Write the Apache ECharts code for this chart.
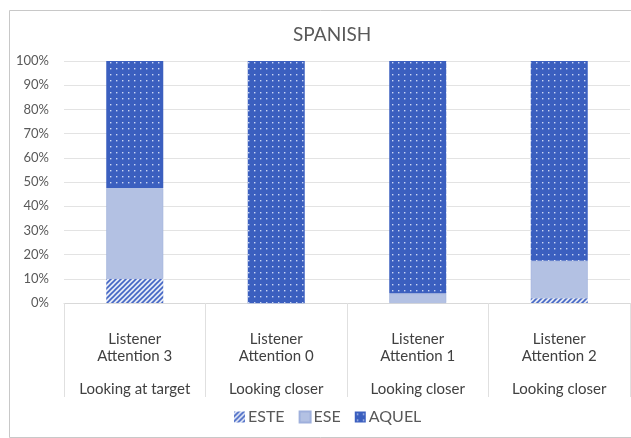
<!DOCTYPE html>
<html>
<head>
<meta charset="utf-8">
<script src="https://cdn.jsdelivr.net/npm/echarts@6/dist/echarts.min.js"></script>
<style>
html,body{margin:0;padding:0;background:#fff;}
#c{width:631px;height:438px;}
</style>
</head>
<body>
<div id="c"></div>
<script>
const categoriesTop = ["Listener\nAttention 3", "Listener\nAttention 0", "Listener\nAttention 1", "Listener\nAttention 2"];
const categoriesBottom = ["Looking at target", "Looking closer", "Looking closer", "Looking closer"];
const seriesNames = ["ESTE", "ESE", "AQUEL"];
const este = [10, 0, 0, 2];
const ese = [37.5, 0, 4, 15.5];
const aquel = [52.5, 100, 96, 82.5];
const yTicks = [0, 10, 20, 30, 40, 50, 60, 70, 80, 90, 100];

function dotPattern() {
  const c = document.createElement('canvas');
  c.width = 6; c.height = 6;
  const g = c.getContext('2d');
  g.fillStyle = '#3b5fbf';
  g.fillRect(0, 0, 6, 6);
  g.fillStyle = 'rgba(220,228,250,0.9)';
  g.fillRect(2, 2, 1.4, 1.4);
  return c;
}
function hatchPattern() {
  const c = document.createElement('canvas');
  c.width = 5; c.height = 5;
  const g = c.getContext('2d');
  g.fillStyle = '#e4e9f6';
  g.fillRect(0, 0, 5, 5);
  g.strokeStyle = '#4466c4';
  g.lineWidth = 1.6;
  g.beginPath();
  g.moveTo(-1, 6); g.lineTo(6, -1);
  g.moveTo(-1, 1); g.lineTo(1, -1);
  g.moveTo(4, 6); g.lineTo(6, 4);
  g.stroke();
  return c;
}

const chart = echarts.init(document.getElementById('c'), null, {renderer: 'canvas'});
const font = 'Lato, "Open Sans", sans-serif';
chart.setOption({
  animation: false,
  backgroundColor: '#fff',
  textStyle: {fontFamily: font},
  graphic: [{
    type: 'rect', left: 7, top: 8, shape: {width: 626, height: 427},
    style: {fill: 'none', stroke: '#c8c8c8', lineWidth: 1}, silent: true
  }],
  title: {
    text: 'SPANISH', left: 288, top: 20,
    textStyle: {fontFamily: font, fontSize: 19, fontWeight: 'normal', color: '#595959'}
  },
  legend: {
    bottom: 8, left: 229,
    itemWidth: 11, itemHeight: 11, itemGap: 14,
    icon: 'rect',
    data: seriesNames,
    textStyle: {fontFamily: font, fontSize: 16, color: '#595959', padding: [0, 0, 0, -2]}
  },
  grid: {left: 64, right: 1, top: 61, bottom: 135, containLabel: false},
  xAxis: [{
    type: 'category', data: categoriesTop, position: 'bottom',
    axisLine: {show: true, lineStyle: {color: '#d9d9d9'}},
    axisTick: {show: true, interval: 0, length: 94, lineStyle: {color: '#e0e0e0'}},
    axisLabel: {interval: 0, margin: 28, fontFamily: font, fontSize: 15, lineHeight: 17, color: '#404040'}
  }, {
    type: 'category', data: categoriesBottom, position: 'bottom',
    axisLine: {show: false}, axisTick: {show: false},
    axisLabel: {interval: 0, margin: 79, fontFamily: font, fontSize: 15, color: '#404040'}
  }],
  yAxis: {
    type: 'value', min: 0, max: 100, interval: 10,
    axisLine: {show: false}, axisTick: {show: false},
    splitLine: {lineStyle: {color: '#e3e3e3'}},
    axisLabel: {
      margin: 15, fontFamily: font, fontSize: 13, color: '#595959',
      formatter: v => yTicks.includes(v) ? v + '%' : ''
    }
  },
  series: [{
    name: 'ESTE', type: 'bar', stack: 's', data: este, barWidth: 57,
    itemStyle: {color: {image: hatchPattern(), repeat: 'repeat'}}
  }, {
    name: 'ESE', type: 'bar', stack: 's', data: ese, barWidth: 57,
    itemStyle: {color: '#b3c1e3', borderColor: '#9fb0dc', borderWidth: 0.6}
  }, {
    name: 'AQUEL', type: 'bar', stack: 's', data: aquel, barWidth: 57,
    itemStyle: {color: {image: dotPattern(), repeat: 'repeat'}}
  }]
});
</script>
</body>
</html>
